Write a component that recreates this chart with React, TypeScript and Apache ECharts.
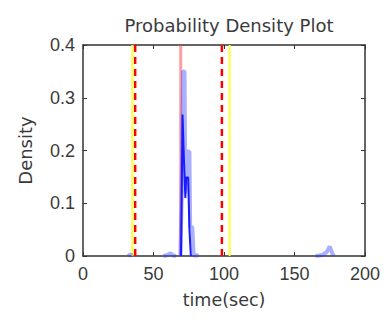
import React, { useEffect, useRef } from "react";
import * as echarts from "echarts";

const xTicks = [0, 50, 100, 150, 200];
const yTicks = [0, 0.1, 0.2, 0.3, 0.4];

// "-" marks a gap where the density stays on the baseline
const lightDensity: [number, number | string][] = [
  [32, 0], [33.5, 0.003], [35, 0], [36, "-"],
  [57, 0], [60, 0.002], [62, 0.005], [64, 0.001], [66, 0], [67, "-"],
  [69, 0], [70, 0.11], [71, 0.35], [72, 0.35], [72.6, 0.12], [73.4, 0.198], [75.5, 0.198],
  [76, 0.055], [77.5, 0.055], [78.5, 0], [80, 0.002], [82, 0], [83, "-"],
  [165, 0], [170, 0.002], [173, 0.008], [175, 0.018], [177, 0.004], [178, 0],
];
const darkDensity: [number, number][] = [
  [69.5, 0], [70, 0.11], [70.6, 0.268], [71.5, 0.19], [72.6, 0.11], [73.2, 0.149], [74.6, 0.149], [75.5, 0.05], [76.5, 0],
];

const yellowLines = [35, 104];
const redDashedLines = [37, 98.5];
const pinkLine = 69.3;

export default function App() {
  const ref = useRef<HTMLDivElement>(null);
  useEffect(() => {
    const chart = echarts.init(ref.current!, null, { renderer: "svg" });
    const font = "Liberation Sans";
    const wideFont = "DejaVu Sans";
    const textColor = "#3a3a3a";
    const vline = (x: number, color: string, width: number, type: any) => ({
      type: "line",
      data: [[x, 0], [x, 0.4]],
      showSymbol: false,
      symbol: "none",
      lineStyle: { color, width, type },
      z: 3,
    });
    const frameAxis = {
      axisLine: { show: true, onZero: false, lineStyle: { color: "#333", width: 1.5 } },
      axisTick: { show: true, inside: true, length: 4, lineStyle: { color: "#333" } },
      splitLine: { show: false },
    };
    chart.setOption({
      animation: false,
      title: {
        text: "Probability Density Plot",
        left: 216,
        textAlign: "center",
        top: 3,
        textStyle: { fontFamily: wideFont, fontSize: 18, fontWeight: "normal", color: textColor },
      },
      grid: { left: 68, right: 9, top: 37, bottom: 51 },
      xAxis: [
        {
          type: "value", min: 0, max: 200, interval: 50,
          name: "time(sec)", nameLocation: "middle", nameGap: 35,
          nameTextStyle: { fontFamily: wideFont, fontSize: 17.5, color: textColor },
          ...frameAxis,
          axisLabel: {
            fontFamily: font, fontSize: 18, color: textColor, margin: 9,
            formatter: (v: number) => (xTicks.includes(v) ? String(v) : ""),
          },
        },
        {
          type: "value", min: 0, max: 200, interval: 50, position: "top",
          ...frameAxis,
          axisLabel: { show: false },
        },
      ],
      yAxis: [
        {
          type: "value", min: 0, max: 0.4, interval: 0.1,
          name: "Density", nameLocation: "middle", nameGap: 49,
          nameTextStyle: { fontFamily: wideFont, fontSize: 18, color: textColor },
          ...frameAxis,
          axisLabel: {
            fontFamily: font, fontSize: 18, color: textColor, margin: 8,
            formatter: (v: number) => {
              const t = yTicks.find((y) => Math.abs(y - v) < 1e-9);
              return t === undefined ? "" : t === 0 ? "0" : String(t);
            },
          },
        },
        {
          type: "value", min: 0, max: 0.4, interval: 0.1, position: "right",
          ...frameAxis,
          axisLabel: { show: false },
        },
      ],
      series: [
        ...yellowLines.map((x) => vline(x, "#ffff33", 2, "solid")),
        ...redDashedLines.map((x) => vline(x, "#ff0000", 2.5, [7, 5])),
        vline(pinkLine, "rgba(255,80,80,0.55)", 3, "solid"),
        {
          type: "line",
          data: lightDensity,
          connectNulls: false,
          showSymbol: false,
          symbol: "none",
          lineStyle: { color: "rgba(40,60,255,0.4)", width: 4 },
          z: 4,
        },
        {
          type: "line",
          data: darkDensity,
          showSymbol: false,
          symbol: "none",
          lineStyle: { color: "#1a1aff", width: 2 },
          z: 5,
        },
      ],
    });
    return () => chart.dispose();
  }, []);
  return <div ref={ref} style={{ width: 375, height: 306 }} />;
}
